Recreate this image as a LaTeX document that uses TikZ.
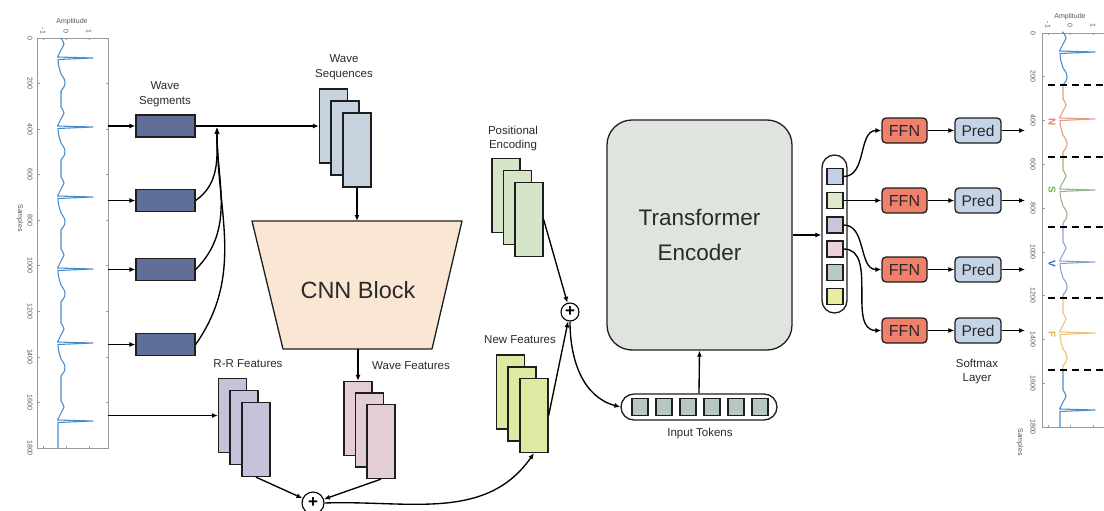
\documentclass[tikz,border=0pt]{standalone}
\usepackage{fontspec}
\setmainfont{Liberation Sans}
\usetikzlibrary{arrows.meta}

\definecolor{linec}{HTML}{1E1E1E}
\definecolor{txtc}{HTML}{2A2A2A}
\definecolor{segc}{HTML}{5F6F98}
\definecolor{seqc}{HTML}{C6D2DE}
\definecolor{cnnc}{HTML}{F9E7D3}
\definecolor{rrc}{HTML}{C8C1DA}
\definecolor{wfc}{HTML}{E2CED3}
\definecolor{nfc}{HTML}{E0E9A2}
\definecolor{pec}{HTML}{D6E4C8}
\definecolor{tec}{HTML}{DFE4DF}
\definecolor{tokc}{HTML}{B6C8C1}
\definecolor{ffnc}{HTML}{F07F6C}
\definecolor{predc}{HTML}{C5D3E6}
\definecolor{oA}{HTML}{C3CFE6}
\definecolor{oB}{HTML}{DDE9C8}
\definecolor{oC}{HTML}{CFC3DC}
\definecolor{oD}{HTML}{ECD2D6}
\definecolor{oE}{HTML}{B8CBC3}
\definecolor{oF}{HTML}{E9EDA2}
\definecolor{framec}{HTML}{9A9A9A}
\definecolor{ecgblue}{HTML}{4A8DCC}
\definecolor{ecgN}{HTML}{E69C82}
\definecolor{ecgS}{HTML}{98B68A}
\definecolor{ecgV}{HTML}{8CA2D2}
\definecolor{ecgF}{HTML}{EAC27C}
\definecolor{labN}{HTML}{E8825F}
\definecolor{labS}{HTML}{6DB33F}
\definecolor{labV}{HTML}{1F6FC5}
\definecolor{labF}{HTML}{F2B233}

% one heartbeat of the trace: colour, baseline x, R-peak y, start y, end y
\newcommand{\ecgbeat}[5]{%
  \draw[ecg,draw=#1] (#2,#4) -- (#2,#3-20)
    .. controls (#2+1,#3-18) and (#2+3,#3-16) .. (#2+3,#3-14)
    .. controls (#2+3,#3-12) and (#2+0.5,#3-10) .. (#2,#3-8)
    .. controls (#2-1,#3-5) and (#2-3,#3-3) .. (#2-3.5,#3-1)
    -- (#2+32,#3) -- (#2-3,#3+1.5)
    .. controls (#2-3,#3+8) and (#2-1,#3+12) .. (#2,#3+16)
    .. controls (#2+2,#3+19) and (#2+4,#3+21) .. (#2+4,#3+25)
    .. controls (#2+4,#3+29) and (#2+1,#3+31) .. (#2,#3+33)
    -- (#2,#5);}
% last heartbeat, cut off during the S-wave recovery
\newcommand{\ecgtail}[5]{%
  \draw[ecg,draw=#1] (#2,#4) -- (#2,#3-20)
    .. controls (#2+1,#3-18) and (#2+3,#3-16) .. (#2+3,#3-14)
    .. controls (#2+3,#3-12) and (#2+0.5,#3-10) .. (#2,#3-8)
    .. controls (#2-1,#3-5) and (#2-3,#3-3) .. (#2-3.5,#3-1)
    -- (#2+32,#3) -- (#2-3,#3+1.5)
    .. controls (#2-3,#3+8) and (#2-3,#3+14) .. (#2-3,#5);}

\begin{document}
\begin{tikzpicture}[x=1pt,y=-1pt,
  blk/.style={draw=linec, line width=1.3pt, inner sep=0pt},
  segbox/.style={blk, fill=segc, minimum width=59pt, minimum height=22pt},
  sheet/.style={blk, minimum width=28pt, minimum height=74pt},
  lbl/.style={font=\fontsize{11.5}{14.5}\selectfont, text=txtc, align=center, inner sep=0pt},
  conn/.style={draw=black, line width=1.35pt, -{Latex[length=6pt,width=5pt]}},
  plusnode/.style={circle, draw=black, line width=1.1pt, fill=white, inner sep=0pt,
    font=\fontsize{17}{17}\selectfont\bfseries},
  tokbox/.style={blk, fill=tokc, minimum width=16pt, minimum height=17pt},
  osq/.style={blk, minimum width=16pt, minimum height=16pt},
  ffnbox/.style={blk, fill=ffnc, rounded corners=4pt, minimum width=45pt, minimum height=25pt,
    font=\fontsize{16}{16}\selectfont, text=txtc},
  predbox/.style={blk, fill=predc, rounded corners=4pt, minimum width=46pt, minimum height=25pt,
    font=\fontsize{15.5}{16}\selectfont, text=txtc},
  frame/.style={draw=framec, line width=0.6pt},
  ticklab/.style={font=\fontsize{7}{7}\selectfont, text=txtc!80, inner sep=0pt},
  axlab/.style={font=\fontsize{7}{7}\selectfont, text=txtc!80, inner sep=0pt},
  ecg/.style={line width=1.1pt, line join=round, line cap=round},
  dashline/.style={draw=black, line width=1.8pt, dash pattern=on 7pt off 5pt},
  clslab/.style={font=\fontsize{10}{10}\selectfont\bfseries, inner sep=0pt, rotate=-90}
]
\useasboundingbox (0,0) rectangle (1104,511);
\clip (0,0) rectangle (1104,511);

% ---------------- input ECG plot ----------------
\draw[frame] (37,38) rectangle (108,448);
\foreach \k in {0,...,9} {
  \pgfmathsetmacro\yy{38+45.556*\k}
  \pgfmathtruncatemacro\lab{200*\k}
  \draw[frame] (37,\yy) -- (39.5,\yy);
  \draw[frame] (108,\yy) -- (105.5,\yy);
  \node[ticklab, rotate=-90] at (30,\yy) {\lab};
}
\foreach \a/\xx in {-1/43,0/66,1/89} {
  \draw[frame] (\xx,38) -- (\xx,40.5);
  \draw[frame] (\xx,448) -- (\xx,445.5);
  \node[ticklab, rotate=-90] at (\xx,31) {\a};
}
\node[axlab] at (72,22) {Amplitude};
\node[axlab, rotate=-90] at (20,218) {Samples};
\ecgbeat{ecgblue}{61}{58}{38}{92}
\ecgbeat{ecgblue}{61}{127}{92}{162}
\ecgbeat{ecgblue}{61}{197}{162}{233}
\ecgbeat{ecgblue}{61}{269}{233}{306}
\ecgbeat{ecgblue}{61}{343}{306}{382}
\ecgtail{ecgblue}{61}{421}{382}{448}

% ---------------- output ECG plot ----------------
\draw[frame] (1113,33) -- (1042,33) -- (1042,427) -- (1113,427);
\foreach \k in {0,...,9} {
  \pgfmathsetmacro\yy{33+43.78*\k}
  \pgfmathtruncatemacro\lab{200*\k}
  \draw[frame] (1042,\yy) -- (1044.5,\yy);
  \node[ticklab, rotate=-90] at (1033,\yy) {\lab};
}
\foreach \a/\xx in {-1/1048,0/1070,1/1093} {
  \draw[frame] (\xx,33) -- (\xx,35.5);
  \draw[frame] (\xx,427) -- (\xx,424.5);
  \node[ticklab, rotate=-90] at (\xx,25) {\a};
}
\node[axlab] at (1070,17) {Amplitude};
\node[axlab, rotate=-90] at (1020,442) {Samples};
\ecgbeat{ecgblue}{1063}{52}{33}{85}
\ecgbeat{ecgN}{1063}{119}{85}{157}
\ecgbeat{ecgS}{1063}{190}{157}{227}
\ecgbeat{ecgV}{1063}{262}{227}{298}
\ecgbeat{ecgF}{1063}{333}{298}{370}
\ecgtail{ecgblue}{1063}{410}{370}{427}
\foreach \yy in {85,157,227,298,370}
  \draw[dashline] (1048,\yy) -- (1110,\yy);
\node[clslab, text=labN] at (1052,122) {N};
\node[clslab, text=labS] at (1052,190) {S};
\node[clslab, text=labV] at (1052,264) {V};
\node[clslab, text=labF] at (1052,335) {F};

% ---------------- wave segments ----------------
\node[segbox] (s1) at (165.5,126) {};
\node[segbox] (s2) at (165.5,200.5) {};
\node[segbox] (s3) at (165.5,269.5) {};
\node[segbox] (s4) at (165.5,344.5) {};
\node[lbl] (lseg) at (165,94) {Wave\\Segments};

\coordinate (q1) at (108,126);
\coordinate (q2) at (108,200.5);
\coordinate (q3) at (108,269.5);
\coordinate (q4) at (108,344.5);
\coordinate (q5) at (108,415.5);
\draw[conn] (q1) -- (s1.west);
\draw[conn] (q2) -- (s2.west);
\draw[conn] (q3) -- (s3.west);
\draw[conn] (q4) -- (s4.west);

% ---------------- wave sequences ----------------
\node[sheet, fill=seqc] (ws1) at (333.5,126) {};
\node[sheet, fill=seqc] (ws2) at (345,138) {};
\node[sheet, fill=seqc] (ws3) at (357,150) {};
\node[lbl] (lseq) at (344,67) {Wave\\Sequences};

\coordinate (jn) at (217,127.5);
\draw[conn] (s1.east) -- (ws1.west);
\draw[conn] (s2.east) to[out=35,in=-90] (jn);
\draw[conn] (s3.east) to[out=45,in=-90] (jn);
\draw[conn] (s4.east) to[out=55,in=-90] (jn);

% ---------------- CNN block ----------------
\filldraw[fill=cnnc, draw=linec, line width=1.3pt, line join=round]
  (252,221) -- (462,221) -- (432,349) -- (283,349) -- cycle;
\node[font=\fontsize{23.5}{24}\selectfont, text=txtc] (cnn) at (358,290) {CNN Block};
\coordinate (cnnT) at (357,221);
\coordinate (cnnB) at (358,349);
\draw[conn] (ws3.south) -- (cnnT);

% ---------------- wave features ----------------
\node[sheet, fill=wfc] (wf1) at (358,418.5) {};
\node[sheet, fill=wfc] (wf2) at (369.5,430) {};
\node[sheet, fill=wfc] (wf3) at (381,441.5) {};
\node[lbl] (lwf) at (411,366) {Wave Features};
\draw[conn] (cnnB) -- (wf1.north);

% ---------------- R-R features ----------------
\node[sheet, fill=rrc] (rr1) at (232.5,415.5) {};
\node[sheet, fill=rrc] (rr2) at (244,427.5) {};
\node[sheet, fill=rrc] (rr3) at (256,439.5) {};
\node[lbl] (lrr) at (248,364) {R-R Features};
\draw[conn] (q5) -- (rr1.west);

% ---------------- feature fusion ----------------
\node[plusnode, minimum size=22pt] (p1) at (313,503) {+};
\draw[conn] (rr3.south) -- (p1);
\draw[conn] (wf3.south) -- (p1);

\node[sheet, fill=nfc] (nf1) at (510.5,392) {};
\node[sheet, fill=nfc] (nf2) at (522,404) {};
\node[sheet, fill=nfc] (nf3) at (534,415.5) {};
\node[lbl] (lnf) at (520,340) {New Features};
\draw[conn] (p1.east) to[out=2,in=-125] (nf3.south);

% ---------------- positional encoding ----------------
\node[sheet, fill=pec] (pe1) at (506,195.5) {};
\node[sheet, fill=pec] (pe2) at (517.5,207.5) {};
\node[sheet, fill=pec] (pe3) at (529,219.5) {};
\node[lbl] (lpe) at (513,138.5) {Positional\\Encoding};

\node[plusnode, minimum size=18pt] (p2) at (570,312) {+};
\draw[conn] (pe3.east) -- (p2);
\draw[conn] (nf3.east) -- (p2);

% ---------------- input tokens ----------------
\node[blk, fill=white, rounded corners=13pt, minimum width=156pt, minimum height=26pt] (tok) at (699,407) {};
\foreach \i in {0,...,5}
  \node[tokbox] (t\i) at (640+24*\i,407) {};
\node[lbl] (ltok) at (700,434) {Input Tokens};
\draw[conn] (p2.south) to[out=-90,in=165] (tok.west);

% ---------------- transformer encoder ----------------
\node[blk, fill=tec, rounded corners=25pt, minimum width=185pt, minimum height=230pt,
  font=\fontsize{22.5}{35}\selectfont, text=txtc, align=center] (te) at (699.5,235) {Transformer\\Encoder};
\draw[conn] (tok.north) -- (te.south);

% ---------------- output tokens ----------------
\node[blk, fill=white, rounded corners=12.5pt, minimum width=25pt, minimum height=158pt] (oc) at (834.5,234) {};
\node[osq, fill=oA] (o1) at (835,176.5) {};
\node[osq, fill=oB] (o2) at (835,200.5) {};
\node[osq, fill=oC] (o3) at (835,225) {};
\node[osq, fill=oD] (o4) at (835,249) {};
\node[osq, fill=oE] (o5) at (835,272.5) {};
\node[osq, fill=oF] (o6) at (835,296.5) {};
\draw[conn] (te.east) -- (te.east -| oc.west);

% ---------------- classification heads ----------------
\node[ffnbox] (f1) at (904.5,130.5) {FFN};
\node[ffnbox] (f2) at (904.5,200.5) {FFN};
\node[ffnbox] (f3) at (904.5,269.5) {FFN};
\node[ffnbox] (f4) at (904.5,330.5) {FFN};
\node[predbox] (pr1) at (978,130.5) {Pred};
\node[predbox] (pr2) at (978,200.5) {Pred};
\node[predbox] (pr3) at (978,269.5) {Pred};
\node[predbox] (pr4) at (978,330.5) {Pred};
\node[lbl] (lsm) at (977,371.5) {Softmax\\Layer};

\draw[conn] (o1.east) to[out=0,in=180] (f1.west);
\draw[conn] (o2.east) -- (f2.west);
\draw[conn] (o3.east) to[out=0,in=180] (f3.west);
\draw[conn] (o4.east) to[out=0,in=180] (f4.west);

\coordinate (e1) at (1025,130.5);
\coordinate (e2) at (1025,200.5);
\coordinate (e3) at (1025,269.5);
\coordinate (e4) at (1025,330.5);
\foreach \i in {1,...,4} {
  \draw[conn] (f\i) -- (pr\i);
  \draw[conn] (pr\i) -- (e\i);
}
\end{tikzpicture}
\end{document}
